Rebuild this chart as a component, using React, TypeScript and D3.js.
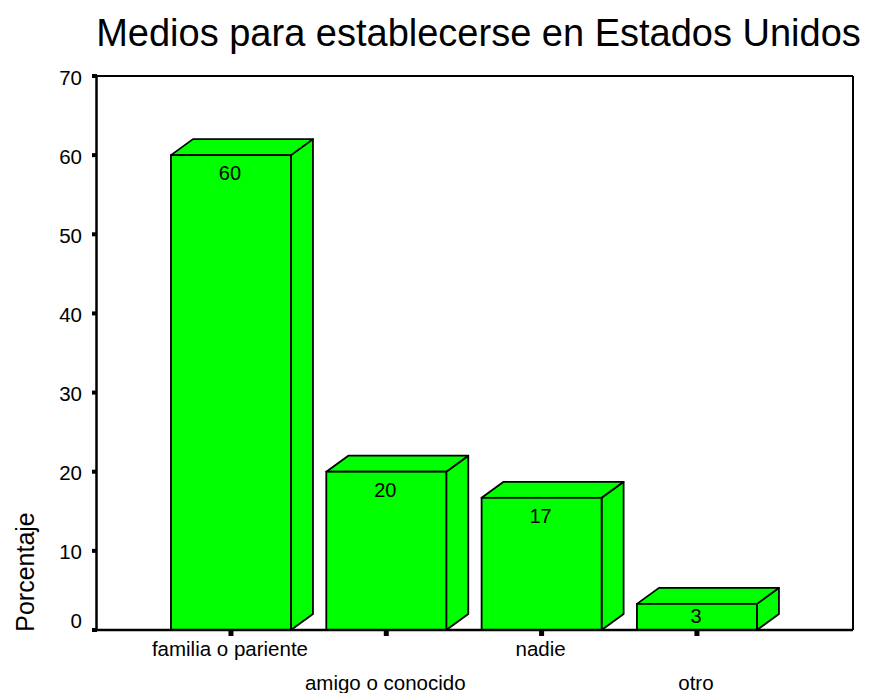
import React from "react";
import * as d3 from "d3";

const title = "Medios para establecerse en Estados Unidos";
const yAxisLabel = "Porcentaje";
const categories = ["familia o pariente", "amigo o conocido", "nadie", "otro"];
const percentValues = [60, 20, 16.7, 3.3];
const barLabels = ["60", "20", "17", "3"];
const yTicks = [0, 10, 20, 30, 40, 50, 60, 70];

const W = 869;
const H = 693;
const plotLeft = 96.5;
const plotRight = 853;
const plotTop = 76;
const plotBottom = 630;
const depthX = 22;
const depthY = 16;
const FONT = "'Liberation Sans', Arial, Helvetica, sans-serif";
const GREEN = "#00ff00";

export default function App() {
  const y = d3.scaleLinear().domain([0, 70]).range([plotBottom, plotTop]);
  const x = d3
    .scaleBand<string>()
    .domain(categories)
    .range([153.3, 774.6])
    .paddingInner(0.2275)
    .paddingOuter(0.11375);
  const bw = x.bandwidth();

  return (
    <svg
      width={W}
      height={H}
      style={{ position: "absolute", left: 0, top: 0, background: "#fff" }}
      fontFamily={FONT}
    >
      <rect x={0} y={0} width={W} height={H} fill="#fff" />
      <text x={478.5} y={46} fontSize={38} textAnchor="middle" fill="#000">
        {title}
      </text>

      {/* frame */}
      <line x1={plotLeft} x2={plotRight} y1={plotTop} y2={plotTop} stroke="#000" strokeWidth={2} />
      <line x1={plotRight} x2={plotRight} y1={plotTop} y2={plotBottom} stroke="#000" strokeWidth={2} />
      <line x1={plotLeft} x2={plotLeft} y1={plotTop} y2={plotBottom} stroke="#000" strokeWidth={2.5} />

      {/* y ticks */}
      {yTicks.map((t) => (
        <g key={t}>
          <rect x={92} y={y(t) - 2} width={5} height={4} fill="#000" />
          <text
            x={82}
            y={y(t) + (t === 0 ? -10 : 1)}
            fontSize={20.5}
            textAnchor="end"
            dominantBaseline="central"
            fill="#000"
          >
            {t}
          </text>
        </g>
      ))}

      <text
        transform={`translate(34, 572) rotate(-90)`}
        fontSize={25}
        textAnchor="middle"
        fill="#000"
      >
        {yAxisLabel}
      </text>

      {/* bars */}
      {categories.map((c, i) => {
        const x0 = x(c)!;
        const yt = y(percentValues[i]);
        const yb = y(0);
        const top = [
          [x0, yt],
          [x0 + depthX, yt - depthY],
          [x0 + bw + depthX, yt - depthY],
          [x0 + bw, yt],
        ];
        const side = [
          [x0 + bw, yt],
          [x0 + bw + depthX, yt - depthY],
          [x0 + bw + depthX, yb - depthY],
          [x0 + bw, yb],
        ];
        const pts = (p: number[][]) => p.map((q) => q.join(",")).join(" ");
        return (
          <g key={c}>
            <polygon points={pts(side)} fill={GREEN} stroke="#000" strokeWidth={1.8} strokeLinejoin="round" />
            <polygon points={pts(top)} fill={GREEN} stroke="#000" strokeWidth={1.8} strokeLinejoin="round" />
            <rect x={x0} y={yt} width={bw} height={yb - yt} fill={GREEN} stroke="#000" strokeWidth={1.8} />
            <text
              x={x0 + bw / 2 - 1}
              y={Math.min(yt + 25, yb - 7.5)}
              fontSize={20}
              textAnchor="middle"
              fill="#000"
            >
              {barLabels[i]}
            </text>
          </g>
        );
      })}

      {/* x axis */}
      <line x1={plotLeft} x2={plotRight} y1={plotBottom} y2={plotBottom} stroke="#000" strokeWidth={2.5} />
      {categories.map((c, i) => {
        const cx = x(c)! + bw / 2;
        return (
          <g key={"t" + c}>
            <rect x={cx - 2.5} y={plotBottom} width={5} height={6} fill="#000" />
            <text
              x={cx - 1}
              y={i % 2 === 0 ? 656 : 690}
              fontSize={20.5}
              textAnchor="middle"
              fill="#000"
            >
              {c}
            </text>
          </g>
        );
      })}
    </svg>
  );
}
